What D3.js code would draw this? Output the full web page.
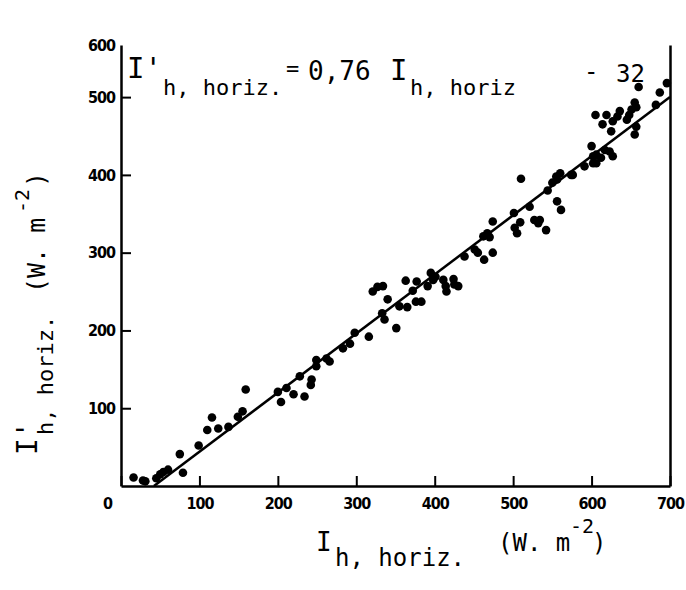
<!DOCTYPE html>
<html>
<head>
<meta charset="utf-8">
<script src="https://cdn.jsdelivr.net/npm/d3@7"></script>
<style>
  body { margin: 0; background: #fff; }
  svg { display: block; }
  .tick text { font-family: "Liberation Sans Narrow", "DejaVu Sans Condensed", "Liberation Sans", sans-serif; font-weight: bold; font-size: 16px; letter-spacing: -1px; }
  .lbl { font-family: "DejaVu Sans Mono", "Liberation Mono", monospace; fill: #000; }
</style>
</head>
<body>
<svg id="chart" width="686" height="590"></svg>
<script>
// measured points (I_h horiz, I'_h horiz), W m-2
var ptsX = [16,28,31,45,50,54,60,75,79,99,110,116,124,137,149,155,159,200,204,211,220,228,234,242,243,249,249,262,266,283,292,298,316,321,327,334,340,333,336,351,355,363,365,372,377,376,383,391,395,401,398,411,414,415,424,425,430,438,451,455,463,474,462,467,470,474,501,502,505,509,510,521,527,534,532,542,544,550,555,560,556,556,561,574,576,591,600,602,602,606,606,612,617,623,627,605,614,619,625,627,633,636,645,648,651,655,657,655,657,660,682,687,696];
var ptsY = [11,7,6,10,15,18,21,41,17,52,72,88,74,76,89,96,124,121,108,126,118,141,115,130,137,154,162,164,160,177,183,197,192,250,256,257,240,222,214,203,231,264,230,251,263,237,237,257,274,269,265,265,257,250,266,259,257,295,304,300,291,300,321,325,320,340,351,332,325,339,395,359,342,342,338,329,380,390,398,402,394,366,355,400,400,411,437,424,415,426,415,422,432,430,424,477,465,477,456,469,475,482,471,477,484,493,487,452,462,513,490,506,518];

// fitted line I' = 0.76 I - 32, end points
var fitX = [42, 700];
var fitY = [0, 500];

var xTicks = [0, 100, 200, 300, 400, 500, 600, 700];
var yTicks = [100, 200, 300, 400, 500, 600];

var svg = d3.select("#chart");

var x = d3.scaleLinear().domain([0, 700]).range([121, 670]);
var y = d3.scaleLinear().domain([0, 567]).range([486, 45]).clamp(true);

// axes, ticks pointing inward
var gx = svg.append("g").attr("transform", "translate(0," + y(0) + ")")
  .call(d3.axisBottom(x).tickValues(xTicks).tickSize(-10).tickSizeOuter(0).tickPadding(12));
gx.selectAll(".tick").filter(function (d) { return d === 0; }).select("text").attr("dx", -14);

var gy = svg.append("g").attr("transform", "translate(" + x(0) + ",0)")
  .call(d3.axisLeft(y).tickValues(yTicks).tickSize(-10).tickSizeOuter(0).tickPadding(6));
gy.selectAll(".tick").filter(function (d) { return d === 600; }).select("line").remove();

var gr = svg.append("g").attr("transform", "translate(" + x(700) + ",0)")
  .call(d3.axisRight(y).tickValues([]).tickSizeOuter(0));

svg.selectAll(".domain").attr("stroke", "#000").attr("stroke-width", 2.5);
svg.selectAll(".tick line").attr("stroke", "#000").attr("stroke-width", 2);
svg.selectAll(".tick text").attr("fill", "#000");

// regression line
svg.append("path")
  .datum(d3.zip(fitX, fitY))
  .attr("d", d3.line().x(function (d) { return x(d[0]); }).y(function (d) { return y(d[1]); }))
  .attr("fill", "none").attr("stroke", "#000").attr("stroke-width", 2.5);

// points
svg.append("g").selectAll("circle")
  .data(d3.zip(ptsX, ptsY))
  .join("circle")
  .attr("cx", function (d) { return x(d[0]); })
  .attr("cy", function (d) { return y(d[1]); })
  .attr("r", 4.3)
  .attr("fill", "#000");

// equation text
function txt(g, s, px, py, size) {
  return g.append("text").attr("class", "lbl").attr("x", px).attr("y", py)
    .attr("font-size", size).text(s);
}
txt(svg, "I'", 127, 78, 29);
txt(svg, "h, horiz.", 163, 95, 22);
txt(svg, "=", 286, 76, 22);
txt(svg, "0,76", 308, 80, 26);
txt(svg, "I", 390, 80, 29);
txt(svg, "h, horiz", 410, 95, 22);
txt(svg, "-", 584, 80, 24);
txt(svg, "32", 616, 82, 24);

// x axis title
txt(svg, "I", 316, 551, 26);
txt(svg, "h, horiz.", 335, 566, 24);
txt(svg, "(W. m", 498, 551, 24);
txt(svg, "-2", 570, 533, 20);
txt(svg, ")", 592, 551, 24);

// y axis title (rotated)
var yl = svg.append("g").attr("transform", "translate(37,455) rotate(-90)");
txt(yl, "I'", 0, 0, 28);
txt(yl, "h, horiz.", 20, 16, 22);
txt(yl, "(W. m", 162, 8, 25);
txt(yl, "-2", 242, -8, 20);
txt(yl, ")", 268, 8, 25);
</script>
</body>
</html>
